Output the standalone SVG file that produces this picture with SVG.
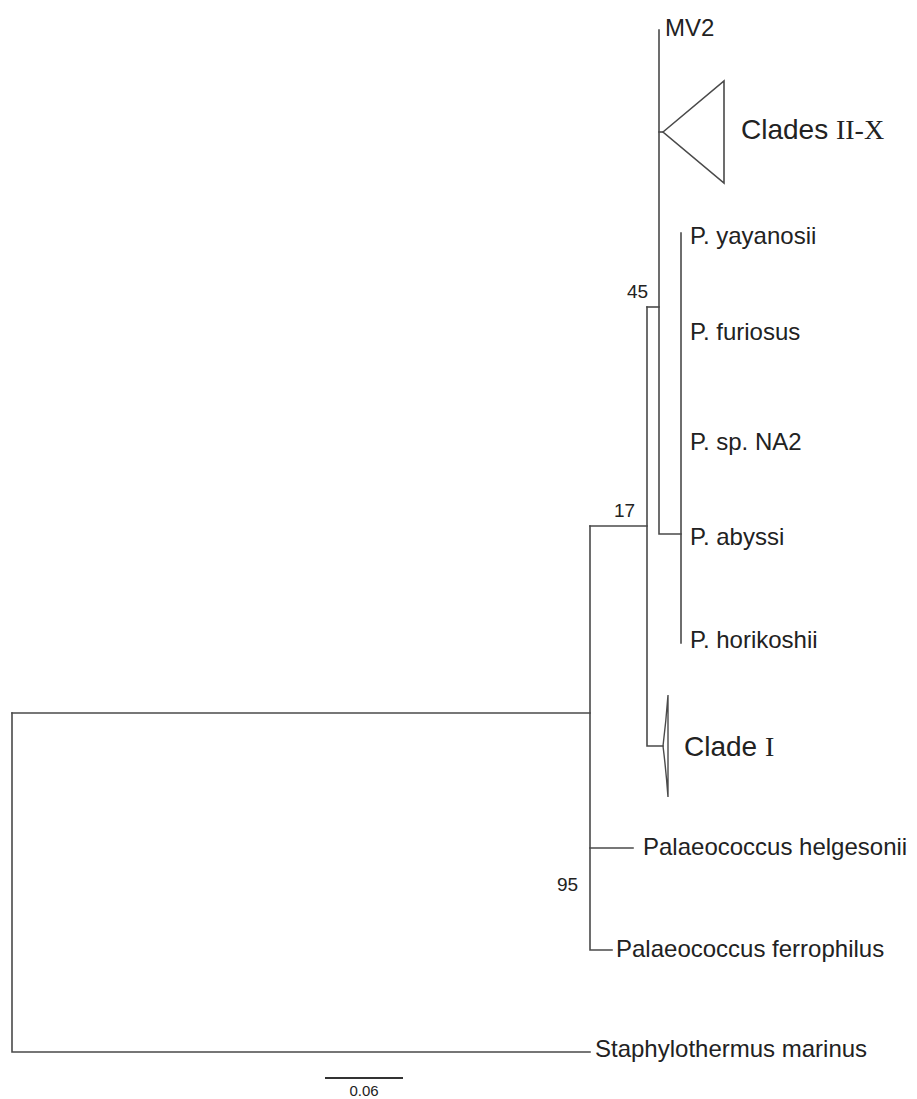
<svg xmlns="http://www.w3.org/2000/svg" width="917" height="1099" viewBox="0 0 917 1099">
<style>
.ln{fill:none;stroke:#4a4a4a;stroke-width:1.6;stroke-linecap:square}
.lbl{font-family:"Liberation Sans",Arial,sans-serif;font-size:24px;fill:#222}
.big{font-family:"Liberation Sans",Arial,sans-serif;font-size:28px;fill:#222}
.rom{font-family:"Liberation Serif","Times New Roman",serif;font-size:28px}
.bs{font-family:"Liberation Sans",Arial,sans-serif;font-size:19px;fill:#222}
.sc{font-family:"Liberation Sans",Arial,sans-serif;font-size:15px;fill:#222}
</style>
<rect width="917" height="1099" fill="#fff"/>
<g id="connectors">
<path class="ln" d="M12,713 H590"/>
<path class="ln" d="M12,713 V1052 H590"/>
<path class="ln" d="M590,526 V950 H612"/>
<path class="ln" d="M590,848 H633"/>
<path class="ln" d="M590,526 H647"/>
<path class="ln" d="M647,307 V746 H663"/>
<path class="ln" d="M647,307 H659"/>
<path class="ln" d="M659,30 V534 H681"/>
<path class="ln" d="M659,132 H663"/>
<path class="ln" d="M681,233 V643"/>
</g>
<g id="scale-bar">
<path d="M325,1078 H403" stroke="#333" stroke-width="2"/>
<text class="sc" x="364" y="1096" text-anchor="middle">0.06</text>
</g>
<g id="node-mv2"><text class="lbl" x="665" y="36">MV2</text></g>
<g id="node-clades-ii-x">
<path d="M663,132 L724,81 L724,183 Z" fill="none" stroke="#4a4a4a" stroke-width="1.6" stroke-linejoin="miter"/>
<text class="big" x="741" y="139">Clades <tspan class="rom">II-X</tspan></text>
</g>
<g id="node-yayanosii"><text class="lbl" x="690" y="244">P. yayanosii</text></g>
<g id="node-furiosus"><text class="lbl" x="690" y="340">P. furiosus</text></g>
<g id="node-na2"><text class="lbl" x="690" y="450">P. sp. NA2</text></g>
<g id="node-abyssi"><text class="lbl" x="690" y="545">P. abyssi</text></g>
<g id="node-horikoshii"><text class="lbl" x="690" y="648">P. horikoshii</text></g>
<g id="node-clade-i">
<path d="M663,746 Q666,722 668,695 L668,797 Q666,770 663,746 Z" fill="none" stroke="#4a4a4a" stroke-width="1.4"/>
<text class="big" x="684" y="756">Clade <tspan class="rom">I</tspan></text>
</g>
<g id="node-helgesonii"><text class="lbl" x="643" y="855">Palaeococcus helgesonii</text></g>
<g id="node-ferrophilus"><text class="lbl" x="616" y="957">Palaeococcus ferrophilus</text></g>
<g id="node-staphylothermus"><text class="lbl" x="595" y="1057">Staphylothermus marinus</text></g>
<g id="bootstrap">
<text class="bs" x="627" y="298">45</text>
<text class="bs" x="614" y="517">17</text>
<text class="bs" x="557" y="891">95</text>
</g>
</svg>
